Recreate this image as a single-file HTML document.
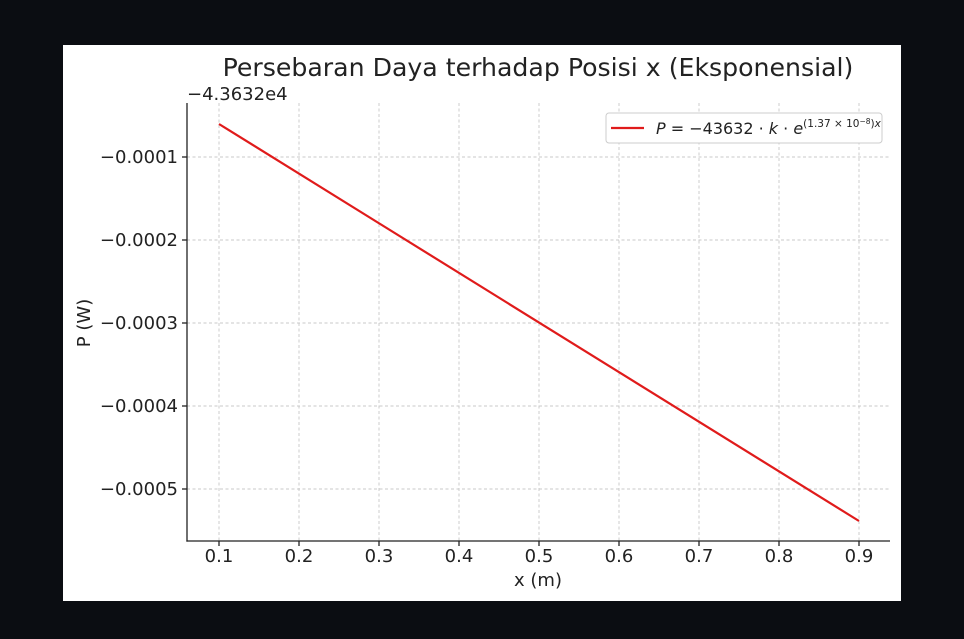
<!DOCTYPE html>
<html><head><meta charset="utf-8"><style>
html,body{margin:0;padding:0;background:#0b0d12;width:964px;height:639px;overflow:hidden}
svg{display:block}
text{font-family:"DejaVu Sans","Liberation Sans",sans-serif;fill:#222}
</style></head><body>
<svg width="964" height="639" viewBox="0 0 964 639">
<rect x="0" y="0" width="964" height="639" fill="#0b0d12"/>
<rect x="63" y="45" width="838" height="556" fill="#fff"/>
<g stroke="#c8c8c8" stroke-width="0.9" stroke-dasharray="3,2.5">
<line x1="219" y1="103" x2="219" y2="541"/><line x1="299" y1="103" x2="299" y2="541"/>
<line x1="379" y1="103" x2="379" y2="541"/><line x1="459" y1="103" x2="459" y2="541"/>
<line x1="539" y1="103" x2="539" y2="541"/><line x1="619" y1="103" x2="619" y2="541"/>
<line x1="699" y1="103" x2="699" y2="541"/><line x1="779" y1="103" x2="779" y2="541"/>
<line x1="859" y1="103" x2="859" y2="541"/>
<line x1="187" y1="157" x2="890" y2="157"/><line x1="187" y1="240" x2="890" y2="240"/>
<line x1="187" y1="323" x2="890" y2="323"/><line x1="187" y1="406" x2="890" y2="406"/>
<line x1="187" y1="489" x2="890" y2="489"/>
</g>
<g stroke="#222" stroke-width="1.3">
<line x1="187" y1="103" x2="187" y2="541.6"/><line x1="186.4" y1="541" x2="890" y2="541"/>
<line x1="182" y1="157" x2="187" y2="157"/><line x1="182" y1="240" x2="187" y2="240"/>
<line x1="182" y1="323" x2="187" y2="323"/><line x1="182" y1="406" x2="187" y2="406"/>
<line x1="182" y1="489" x2="187" y2="489"/>
<line x1="219" y1="541" x2="219" y2="546"/><line x1="299" y1="541" x2="299" y2="546"/>
<line x1="379" y1="541" x2="379" y2="546"/><line x1="459" y1="541" x2="459" y2="546"/>
<line x1="539" y1="541" x2="539" y2="546"/><line x1="619" y1="541" x2="619" y2="546"/>
<line x1="699" y1="541" x2="699" y2="546"/><line x1="779" y1="541" x2="779" y2="546"/>
<line x1="859" y1="541" x2="859" y2="546"/>
</g>
<line x1="219" y1="124" x2="859" y2="521" stroke="#e01b1b" stroke-width="2.2"/>
<g font-size="18" text-anchor="end">
<text x="178" y="163">−0.0001</text><text x="178" y="246">−0.0002</text>
<text x="178" y="329">−0.0003</text><text x="178" y="412">−0.0004</text>
<text x="178" y="495">−0.0005</text>
</g>
<g font-size="18" text-anchor="middle">
<text x="219" y="562">0.1</text><text x="299" y="562">0.2</text><text x="379" y="562">0.3</text>
<text x="459" y="562">0.4</text><text x="539" y="562">0.5</text><text x="619" y="562">0.6</text>
<text x="699" y="562">0.7</text><text x="779" y="562">0.8</text><text x="859" y="562">0.9</text>
<text x="538" y="586">x (m)</text>
<text x="538" y="76" font-size="25.2" fill="#333">Persebaran Daya terhadap Posisi x (Eksponensial)</text>
</g>
<text x="187" y="100" font-size="18">−4.3632e4</text>
<text transform="translate(90,323) rotate(-90)" font-size="18" text-anchor="middle">P (W)</text>
<rect x="606" y="113" width="276" height="30" rx="3" fill="#fff" stroke="#ccc"/>
<line x1="611" y1="128" x2="644" y2="128" stroke="#e01b1b" stroke-width="2.2"/>
<text x="656" y="134" font-size="16"><tspan font-style="italic">P</tspan> = −43632 · <tspan font-style="italic">k</tspan> · <tspan font-style="italic">e</tspan><tspan font-size="10.5" dy="-7">(1.37 × 10</tspan><tspan font-size="7.5" dy="-3">−8</tspan><tspan font-size="10.5" dy="3">)</tspan><tspan font-size="10.5" font-style="italic">x</tspan></text>
</svg>
</body></html>
